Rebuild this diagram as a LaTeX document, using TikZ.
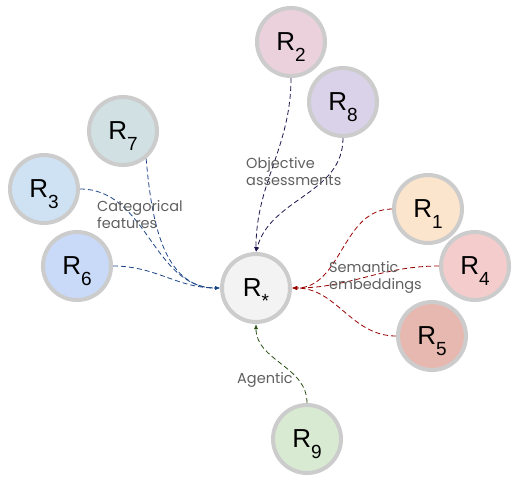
\documentclass[tikz,border=0pt]{standalone}
\usepackage{fontspec}
\setmainfont{Liberation Sans}
\newfontfamily\notefont{Poppins}
\usetikzlibrary{arrows.meta}
\definecolor{ringgray}{HTML}{CCCCCC}
\definecolor{notegray}{HTML}{5F5F5F}
\definecolor{cS}{HTML}{F3F3F3}
\definecolor{cA}{HTML}{FCE5CD}
\definecolor{cB}{HTML}{EAD1DC}
\definecolor{cC}{HTML}{CFE2F3}
\definecolor{cD}{HTML}{F4CCCC}
\definecolor{cE}{HTML}{E6B8AF}
\definecolor{cF}{HTML}{C9DAF8}
\definecolor{cG}{HTML}{D0E0E3}
\definecolor{cH}{HTML}{D9D2E9}
\definecolor{cI}{HTML}{D9EAD3}
\definecolor{navyline}{HTML}{20124D}
\definecolor{blueline}{HTML}{1C4587}
\definecolor{redline}{HTML}{990000}
\definecolor{greenline}{HTML}{274E13}
\newcommand\lowsub[1]{\raisebox{-11pt}{\fontsize{19}{19}\selectfont#1}}
\begin{document}
\begin{tikzpicture}[x=1pt,y=1pt,
    ball/.style={circle,draw=ringgray,line width=4pt,minimum size=68pt,inner sep=0pt,
      text depth=0pt,font=\fontsize{26}{26}\selectfont},
    link/.style={line width=0.8pt,dash pattern=on 5pt off 3pt,-{Latex[length=5pt,width=4pt]}},
    note/.style={anchor=north west,inner sep=0pt,align=left,text=notegray,
      font=\notefont\fontsize{14.5}{17}\selectfont}]
  \useasboundingbox (0,0) rectangle (519,-482);
  \node[ball,fill=cS] (Rs) at (256,-288) {R\lowsub{*}};
  \node[ball,fill=cA] (R1) at (428,-209) {R\lowsub{1}};
  \node[ball,fill=cB] (R2) at (291,-42) {R\lowsub{2}};
  \node[ball,fill=cC] (R3) at (44,-189) {R\lowsub{3}};
  \node[ball,fill=cD] (R4) at (475,-266) {R\lowsub{4}};
  \node[ball,fill=cE] (R5) at (432,-336) {R\lowsub{5}};
  \node[ball,fill=cF] (R6) at (77,-266) {R\lowsub{6}};
  \node[ball,fill=cG] (R7) at (123,-131) {R\lowsub{7}};
  \node[ball,fill=cH] (R8) at (343,-102) {R\lowsub{8}};
  \node[ball,fill=cI] (R9) at (307,-439) {R\lowsub{9}};
  % links into the centre
  \begin{scope}[link]
    \draw[navyline] (R2.south) to[out=-90,in=90] (Rs.north);
    \draw[navyline] (R8.south) to[out=-90,in=75] (Rs.north);
    \draw[blueline] (R7.-50) to[out=-85,in=180] (Rs.west);
    \draw[blueline] (R3.east) to[out=0,in=180] (Rs.west);
    \draw[blueline] (R6.east) to[out=0,in=180] (Rs.west);
    \draw[redline] (R1.west) to[out=180,in=0] (Rs.east);
    \draw[redline] (R4.west) to[out=180,in=0] (Rs.east);
    \draw[redline] (R5.west) to[out=180,in=0] (Rs.east);
    \draw[greenline] (R9.north) to[out=90,in=-90] (Rs.south);
  \end{scope}
  \node[note] (objective) at (246,-157) {Objective\\assessments};
  \node[note] (categorical) at (97,-200) {Categorical\\features};
  \node[note] (semantic) at (329,-261) {Semantic\\embeddings};
  \node[note] (agentic) at (237,-372) {Agentic};
\end{tikzpicture}
\end{document}
